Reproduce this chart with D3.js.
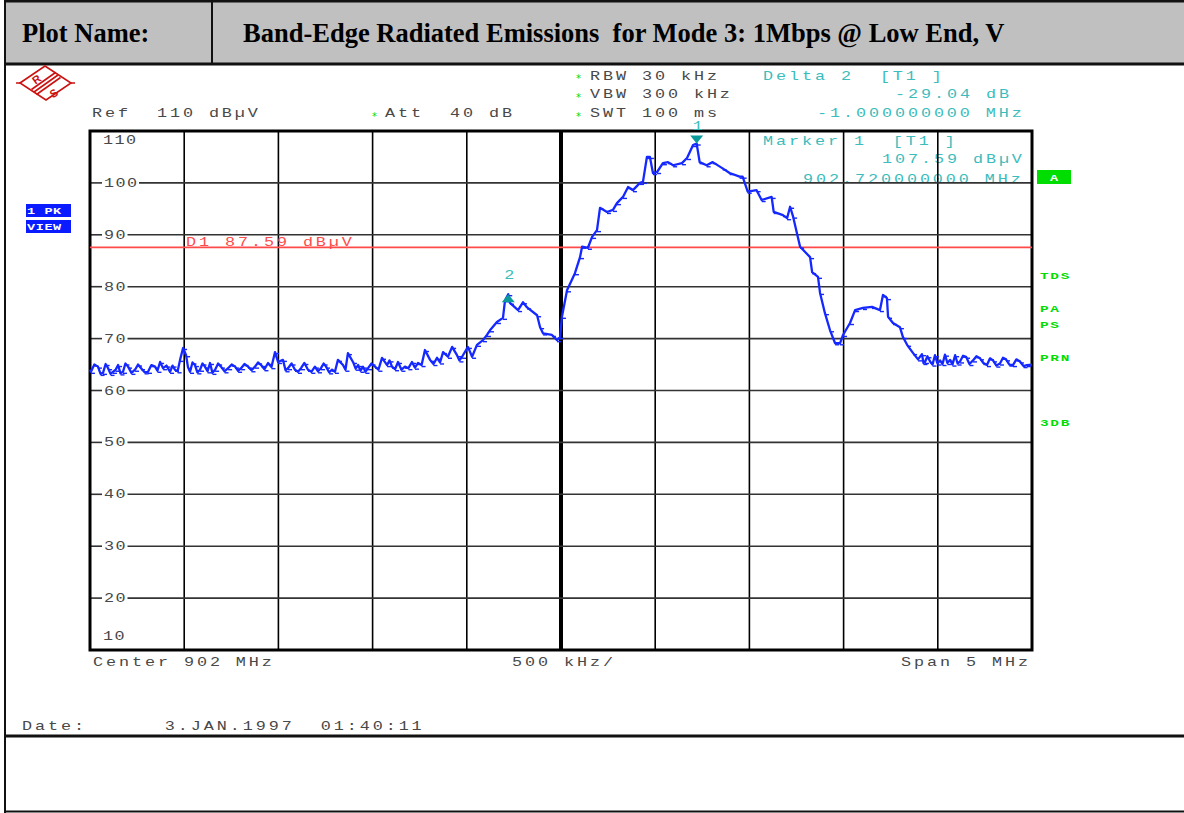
<!DOCTYPE html>
<html><head><meta charset="utf-8">
<script src="https://cdn.jsdelivr.net/npm/d3@7"></script>
<style>body{margin:0;background:#fff;} svg{display:block;}</style>
</head><body>
<svg id="c" width="1184" height="813"></svg>
<script>
// ---- data (frequency in MHz, level in dBµV) ----
const freqMHz = [
899.5,899.505,899.523,899.542,899.556,899.569,899.583,899.596,899.609,899.622,
899.636,899.649,899.662,899.675,899.688,899.702,899.720,899.739,899.755,899.771,
899.790,899.808,899.826,899.845,899.858,899.872,899.888,899.906,899.925,899.938,
899.951,899.965,899.978,899.994,900.010,900.020,900.031,900.044,900.057,900.070,
900.084,900.097,900.110,900.124,900.137,900.150,900.164,900.180,900.195,900.214,
900.233,900.252,900.270,900.286,900.302,900.320,900.339,900.357,900.376,900.392,
900.408,900.426,900.445,900.463,900.482,900.498,900.524,900.538,900.551,900.570,
900.588,900.604,900.620,900.638,900.657,900.675,900.694,900.710,900.726,900.740,
900.753,900.769,900.785,900.800,900.816,900.843,900.856,900.869,900.896,900.910,
900.923,900.936,900.949,900.962,900.976,900.994,901.013,901.031,901.050,901.077,
901.090,901.103,901.119,901.135,901.153,901.172,901.190,901.209,901.225,901.241,
901.260,901.278,901.305,901.323,901.342,901.358,901.374,901.400,901.422,901.448,
901.461,901.475,901.506,901.528,901.554,901.586,901.607,901.623,901.660,901.692,
901.703,901.720,901.729,901.772,901.798,901.820,901.873,901.889,901.905,901.952,
901.979,901.995,902.005,902.032,902.074,902.101,902.112,902.143,902.165,902.191,
902.207,902.244,902.276,902.297,902.329,902.356,902.382,902.419,902.435,902.456,
902.472,902.488,902.510,902.541,902.568,902.595,902.642,902.669,902.701,902.720,
902.736,902.773,902.805,902.858,902.895,902.948,902.964,902.991,903.038,903.065,
903.118,903.129,903.178,903.200,903.216,903.232,903.269,903.322,903.333,903.364,
903.375,903.401,903.428,903.455,903.481,903.497,903.534,903.561,903.603,903.651,
903.693,903.709,903.730,903.736,903.762,903.799,903.815,903.837,903.869,903.895,
903.916,903.924,903.932,903.945,903.959,903.972,903.985,903.998,904.012,904.025,
904.038,904.051,904.065,904.078,904.092,904.105,904.118,904.134,904.150,904.168,
904.187,904.205,904.224,904.242,904.261,904.277,904.293,904.311,904.330,904.346,
904.362,904.380,904.399,904.417,904.436,904.455,904.473,904.5];
const levelDb = [
64.0,63.6,65.0,64.6,63.2,63.4,65.1,64.3,63.2,63.6,
64.0,64.9,63.3,63.6,65.2,64.6,63.4,64.0,65.0,64.3,
63.5,63.6,64.9,64.6,63.8,65.5,64.3,64.8,63.6,64.8,
64.0,63.7,65.9,68.2,66.8,64.5,63.6,65.4,64.9,63.5,
64.0,65.2,64.6,63.7,65.3,63.4,64.0,65.2,64.6,63.7,
64.3,65.0,64.6,63.8,64.3,65.1,64.6,63.9,64.6,65.4,
64.9,64.1,65.3,64.5,67.4,65.5,65.9,63.9,64.3,65.2,
64.0,63.6,64.3,65.3,64.0,63.6,64.6,63.7,64.3,65.2,
64.6,63.5,64.0,63.6,65.9,64.9,64.0,67.2,65.5,64.2,
64.9,63.8,64.6,63.6,64.3,65.2,64.6,64.0,66.3,64.9,
65.8,64.6,64.1,65.5,64.0,64.6,64.3,65.5,64.4,65.3,
64.9,67.8,65.9,65.1,66.3,65.4,67.4,66.5,68.4,66.8,
65.8,66.5,68.4,66.5,68.8,69.7,70.7,71.6,73.2,74.0,
77.4,78.55,76.9,75.5,77.0,76.0,74.5,72.2,71.0,70.7,
69.7,70.3,74.2,79.3,82.6,85.7,87.7,87.5,89.6,90.9,
95.2,94.4,94.8,96.1,97.3,99.2,98.6,100.0,100.2,105.0,
105.0,101.9,102.1,103.8,104.0,103.4,103.8,104.8,107.3,107.59,
104.0,103.4,104.0,102.8,101.9,101.2,101.2,98.3,98.6,96.7,
97.3,94.4,93.8,93.2,95.4,93.5,87.7,85.7,82.8,81.9,
78.8,74.9,71.6,69.1,69.1,70.7,73.0,75.5,75.9,76.1,
75.5,78.4,77.8,74.2,73.0,72.2,70.3,68.8,67.2,66.0,
67.0,65.3,65.5,66.6,65.6,65.0,66.8,65.2,65.8,65.1,
66.9,65.3,65.9,65.0,66.8,65.2,65.6,66.7,66.5,65.1,
65.8,66.6,66.2,65.3,64.9,66.2,65.8,64.8,65.2,66.3,
66.0,65.0,64.9,66.0,65.6,64.7,64.9,65.0];
const yTicks = [110,100,90,80,70,60,50,40,30,20,10];
const markerNames = ["1","2"];
const markerFreq = [902.72, 901.72];
const markerLevel = [107.59, 78.55];
const markerDir = ["down","up"];
const displayLineDb = 87.59;
const sideLabels = ["TDS","PA","PS","PRN","3DB"];

// ---- layout ----
const svg = d3.select("#c");
const X0 = 90, X1 = 1032, Y0 = 131, Y1 = 650;
const x = d3.scaleLinear().domain([899.5, 904.5]).range([X0, X1]);
const y = d3.scaleLinear().domain([10, 110]).range([Y1, Y0]);

const GREY = "#484848", TEAL = "#3cbcbc", GREEN = "#00dd00", RED = "#ff4a4a", BLUE = "#1428ff";

function mono(x0, y0, s, color, adv = 13, sx = 1.4, size = 12) {
  svg.append("text")
    .attr("transform", `translate(${x0},${y0}) scale(${sx},1)`)
    .attr("font-family", "Liberation Mono, DejaVu Sans Mono, monospace")
    .attr("font-size", size)
    .attr("letter-spacing", adv / sx - size * 0.6)
    .style("white-space", "pre")
    .attr("fill", color)
    .text(s);
}
function star(x0, y0) {
  svg.append("text").attr("x", x0).attr("y", y0).attr("font-family", "DejaVu Sans")
    .attr("font-size", 10).attr("fill", GREEN).text("*");
}

// ---- header ----
svg.append("rect").attr("x", 5).attr("y", 1).attr("width", 1184).attr("height", 63).attr("fill", "#c0c0c0");
svg.append("line").attr("x1", 5).attr("x2", 1184).attr("y1", 1).attr("y2", 1).attr("stroke", "#111").attr("stroke-width", 3);
svg.append("line").attr("x1", 5).attr("x2", 1184).attr("y1", 64).attr("y2", 64).attr("stroke", "#111").attr("stroke-width", 3);
svg.append("line").attr("x1", 212).attr("x2", 212).attr("y1", 0).attr("y2", 64).attr("stroke", "#111").attr("stroke-width", 2);
svg.append("line").attr("x1", 5).attr("x2", 5).attr("y1", 0).attr("y2", 813).attr("stroke", "#111").attr("stroke-width", 2);
svg.append("line").attr("x1", 5).attr("x2", 1184).attr("y1", 736).attr("y2", 736).attr("stroke", "#111").attr("stroke-width", 3);
svg.append("line").attr("x1", 5).attr("x2", 1184).attr("y1", 811.5).attr("y2", 811.5).attr("stroke", "#111").attr("stroke-width", 2);
svg.append("text").attr("x", 22).attr("y", 42).attr("font-family", "Liberation Serif, Times New Roman, serif")
  .attr("font-weight", "bold").attr("font-size", 26.5).attr("fill", "#000").text("Plot Name:");
svg.append("text").attr("x", 243).attr("y", 42).attr("font-family", "Liberation Serif, Times New Roman, serif")
  .attr("font-weight", "bold").attr("font-size", 26.5).attr("fill", "#000").style("white-space", "pre")
  .text("Band-Edge Radiated Emissions  for Mode 3: 1Mbps @ Low End, V");

// ---- R&S logo ----
const lg = svg.append("g").attr("stroke", "#cc1111").attr("fill", "none").attr("stroke-width", 1.6);
lg.append("path").attr("d", "M20,83 L45,66 L71,83 L46,100 Z");
lg.append("path").attr("d", "M16,83 L20,83 M71,83 L75,83");
[-2.5, 0, 2.5].forEach(o => lg.append("line").attr("x1", 34 + o).attr("y1", 92 + o).attr("x2", 58 + o).attr("y2", 75 + o));
svg.append("text").attr("x", 33).attr("y", 83).attr("font-family", "Liberation Sans").attr("font-weight", "bold")
  .attr("font-size", 11).attr("fill", "#cc1111").attr("transform", "rotate(-35,37,80)").text("R");
svg.append("text").attr("x", 50).attr("y", 97).attr("font-family", "Liberation Sans").attr("font-weight", "bold")
  .attr("font-size", 11).attr("fill", "#cc1111").attr("transform", "rotate(-35,54,93)").text("S");

// ---- instrument settings text ----
mono(92, 117, "Ref  110 dB\u00b5V", GREY);
star(372, 120); mono(385, 117, "Att  40 dB", GREY);
star(576, 82); mono(590, 79.5, "RBW 30 kHz", GREY);
star(576, 101); mono(590, 98, "VBW 300 kHz", GREY);
star(576, 120); mono(590, 117, "SWT 100 ms", GREY);
mono(763, 79.5, "Delta 2  [T1 ]", TEAL);
mono(895, 98, "-29.04 dB", TEAL);
mono(817, 117, "-1.000000000 MHz", TEAL);
mono(763, 144.5, "Marker 1  [T1 ]", TEAL);
mono(882, 163, "107.59 dB\u00b5V", TEAL);
mono(803, 183, "902.720000000 MHz", TEAL);

// ---- left boxes ----
[["1 PK", 204], ["VIEW", 220]].forEach(([t, yy]) => {
  svg.append("rect").attr("x", 26).attr("y", yy).attr("width", 45).attr("height", 13).attr("fill", "#0a1cff");
  svg.append("text").attr("transform", `translate(27,${yy + 10}) scale(1.5,1)`).attr("font-family", "Liberation Mono")
    .attr("font-weight", "bold").attr("font-size", 9).attr("letter-spacing", 0.4).style("white-space", "pre")
    .attr("fill", "#fff").text(t);
});
// A box
svg.append("rect").attr("x", 1037).attr("y", 170).attr("width", 34).attr("height", 14).attr("fill", GREEN);
svg.append("text").attr("transform", "translate(1050,181) scale(1.5,1)").attr("font-family", "Liberation Mono")
  .attr("font-weight", "bold").attr("font-size", 9).attr("fill", "#fff").text("A");
const sideY = [279, 312, 328, 361, 426];
sideLabels.forEach((t, i) => {
  svg.append("text").attr("transform", `translate(1040,${sideY[i]}) scale(1.6,1)`).attr("font-family", "Liberation Mono")
    .attr("font-weight", "bold").attr("font-size", 9).attr("letter-spacing", 1.05).attr("fill", GREEN).text(t);
});

// ---- grid ----
const grid = svg.append("g");
x.ticks(10).forEach(v => {
  const xv = x(v);
  grid.append("line").attr("x1", xv).attr("x2", xv).attr("y1", Y0).attr("y2", Y1)
    .attr("stroke", "#000").attr("stroke-width", Math.abs(v - 902) < 1e-6 ? 4 : 1.6);
});
yTicks.forEach(v => {
  const yv = y(v);
  const s = String(v);
  const w = (s.length - 1) * 11.5 + 9;
  if (v === 110) { mono(103, yv + 13, s, GREY, 11.5); return; }
  if (v === 10) { mono(103, yv - 10, s, GREY, 11.5); return; }
  grid.append("line").attr("x1", X0).attr("x2", 102).attr("y1", yv).attr("y2", yv).attr("stroke", "#333").attr("stroke-width", 1.6);
  grid.append("line").attr("x1", 104 + w + 3).attr("x2", X1).attr("y1", yv).attr("y2", yv).attr("stroke", "#333").attr("stroke-width", 1.6);
  mono(104, yv + 4, s, GREY, 11.5);
});
svg.append("rect").attr("x", X0).attr("y", Y0).attr("width", X1 - X0).attr("height", Y1 - Y0)
  .attr("fill", "none").attr("stroke", "#000").attr("stroke-width", 3);

// ---- display line ----
svg.append("line").attr("x1", X0).attr("x2", X1).attr("y1", y(displayLineDb)).attr("y2", y(displayLineDb))
  .attr("stroke", RED).attr("stroke-width", 1.8);
mono(186, y(displayLineDb) - 1, "D1 87.59 dB\u00b5V", RED);

// ---- trace ----
const pts = freqMHz.map((f, i) => [f, levelDb[i]]);
svg.append("path").datum(pts)
  .attr("d", d3.line().x(d => x(d[0])).y(d => y(d[1])).curve(d3.curveLinear))
  .attr("fill", "none").attr("stroke", BLUE).attr("stroke-width", 2.3).attr("stroke-linejoin", "round");
svg.append("g").selectAll("line").data(pts.slice(1, -1)).join("line")
  .attr("x1", d => x(d[0])).attr("x2", d => x(d[0]) + 4)
  .attr("y1", d => y(d[1]) + 1.5).attr("y2", d => y(d[1]) + 1.5)
  .attr("stroke", BLUE).attr("stroke-width", 1.4);

// ---- markers ----
markerNames.forEach((n, i) => {
  const mx = x(markerFreq[i]), my = y(markerLevel[i]);
  const d = markerDir[i] === "down"
    ? `M${mx - 6.5},${my - 8} L${mx + 6.5},${my - 8} L${mx},${my} Z`
    : `M${mx - 6.5},${my + 8} L${mx + 6.5},${my + 8} L${mx},${my} Z`;
  svg.append("path").attr("d", d).attr("fill", "#0a9a9a");
  const ly = markerDir[i] === "down" ? my - 14 : my - 15;
  mono(mx - 4, ly, n, TEAL);
});

// ---- footer texts ----
mono(93, 666, "Center 902 MHz", GREY);
mono(512, 666, "500 kHz/", GREY);
mono(901, 666, "Span 5 MHz", GREY);
mono(22, 730, "Date:      3.JAN.1997  01:40:11", GREY);
</script>
</body></html>
